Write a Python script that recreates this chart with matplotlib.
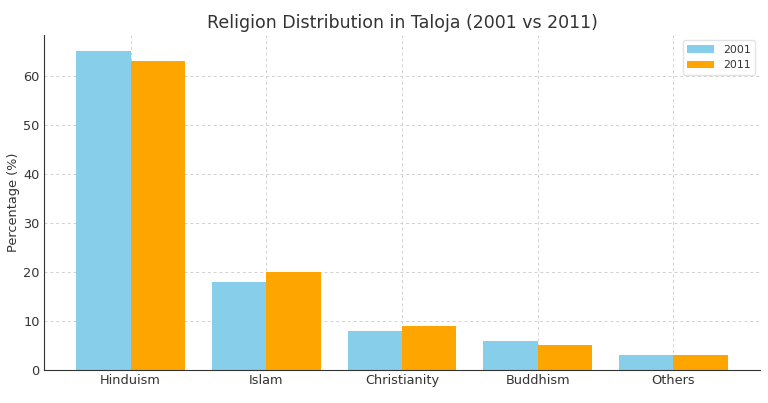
import matplotlib.pyplot as plt
import numpy as np

categories = ["Hinduism", "Islam", "Christianity", "Buddhism", "Others"]
values_2001 = [65, 18, 8, 6, 3]
values_2011 = [63, 20, 9, 5, 3]
series_labels = ["2001", "2011"]

fig = plt.figure(figsize=(7.68, 4.03), dpi=100)
ax = fig.add_axes([0.057, 0.082, 0.933, 0.831])

x = np.arange(len(categories))
w = 0.4
ax.bar(x - w/2, values_2001, w, color="#87CEEB", label=series_labels[0], zorder=2)
ax.bar(x + w/2, values_2011, w, color="#FFA500", label=series_labels[1], zorder=2)

ax.set_xticks(x)
ax.set_xticklabels(categories)
ax.set_ylabel("Percentage (%)", fontsize=9.3, color="#333333", labelpad=2)
ax.set_title("Religion Distribution in Taloja (2001 vs 2011)", fontsize=12.5, color="#333333", pad=5)
ax.grid(True, linestyle=(0, (3, 3)), color="#d0d0d0", linewidth=0.7, zorder=0)
ax.set_axisbelow(True)
for s in ["top", "right"]:
    ax.spines[s].set_visible(False)
for s in ["left", "bottom"]:
    ax.spines[s].set_color("#333333")
ax.tick_params(axis="both", labelsize=9.3, colors="#333333", length=0, pad=3)
leg = ax.legend(fontsize=7.8, loc="upper right", frameon=True, handlelength=2.5)
leg.get_frame().set_edgecolor("#dddddd")
for t in leg.get_texts():
    t.set_color("#333333")

fig.savefig("out.png", dpi=100)
